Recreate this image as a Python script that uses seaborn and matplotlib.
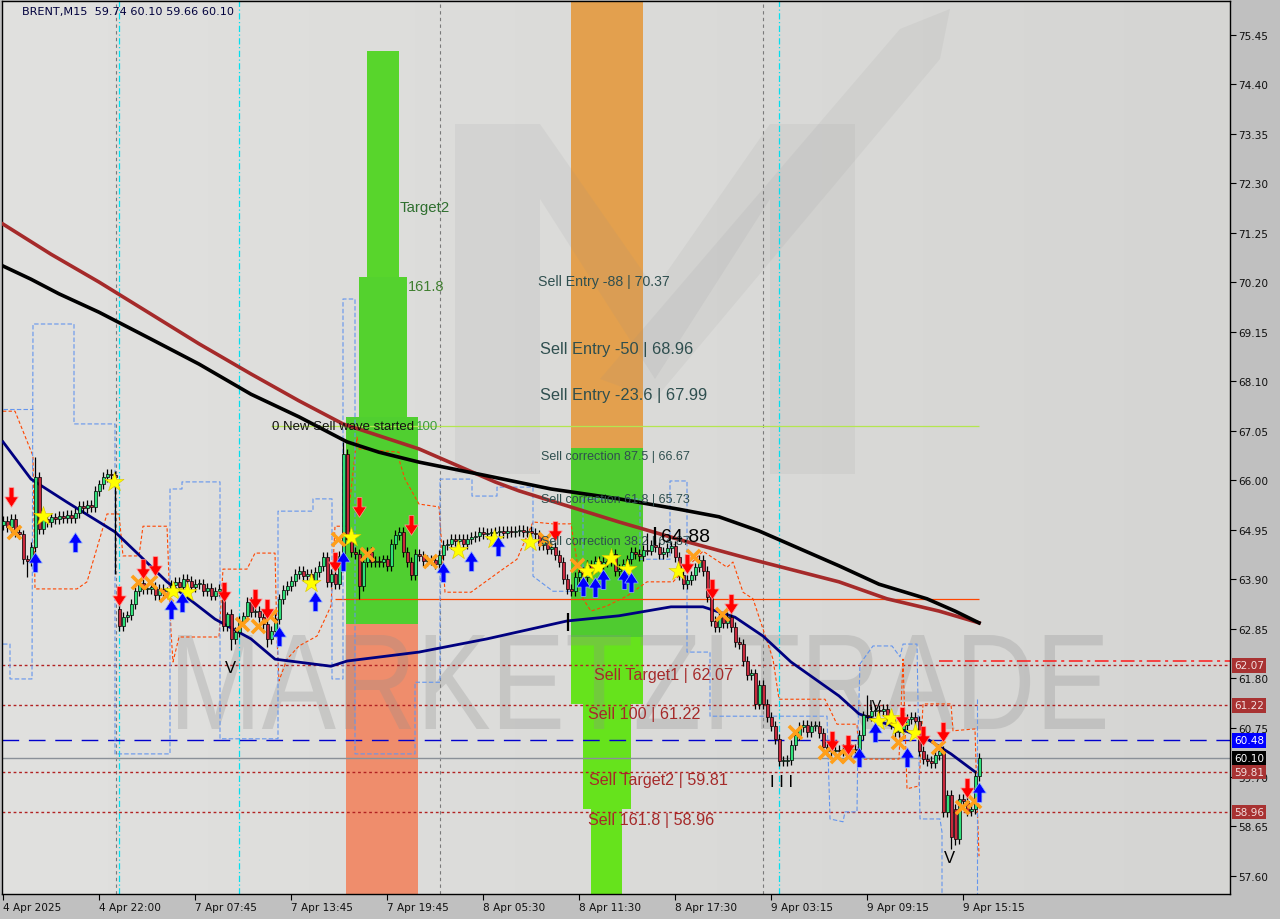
import numpy as np
import pandas as pd
import matplotlib
matplotlib.use("Agg")
import matplotlib.pyplot as plt
import seaborn as sns
from matplotlib.path import Path
from matplotlib.textpath import TextPath
from matplotlib.patches import PathPatch, Polygon
from matplotlib.font_manager import FontProperties
from matplotlib.transforms import Affine2D, blended_transform_factory
from matplotlib.colors import LinearSegmentedColormap

# ---------------- data ----------------
closes = [
    65.13, 65.00, 65.17, 64.90, 64.85, 64.32, 64.28, 64.58, 66.06, 64.96,
    65.17, 65.11, 65.21, 65.17, 65.24, 65.19, 65.26, 65.19, 65.30, 65.45,
    65.41, 65.47, 65.43, 65.77, 65.91, 66.06, 66.13, 66.10, 66.06,
    62.90, 63.09, 63.13, 63.37, 63.64, 63.81, 63.69, 63.69, 63.73, 63.56,
    63.69, 63.64, 63.64, 63.77, 63.84, 63.73, 63.90, 63.86, 63.73, 63.79,
    63.79, 63.64, 63.71, 63.55, 63.64, 63.69, 62.90, 63.16, 62.63, 62.78,
    63.01, 63.11, 63.41, 63.20, 63.22, 63.09, 62.94, 62.63, 62.80, 63.05,
    63.48, 63.67, 63.75, 63.86, 64.01, 64.07, 63.96, 64.01, 63.86, 64.05,
    64.18, 64.37, 63.84, 64.01, 63.79, 64.39, 66.55, 64.75, 64.47, 64.43,
    63.75, 64.26, 64.47, 64.26, 64.28, 64.26, 64.32, 64.18, 64.64, 64.83,
    64.90, 64.47, 64.26, 63.98, 64.43, 64.39, 64.28, 64.32, 64.30, 64.22,
    64.41, 64.62, 64.64, 64.75, 64.71, 64.75, 64.64, 64.75, 64.79, 64.81,
    64.90, 64.85, 64.88, 64.88, 64.90, 64.92, 64.88, 64.92, 64.90, 64.92,
    64.94, 64.90, 64.92, 64.88, 64.85, 64.62, 64.71, 64.54, 64.58, 64.41,
    64.26, 63.90, 63.69, 63.64, 63.94, 64.05, 63.94, 64.20, 64.13, 64.28,
    64.20, 64.26, 64.28, 64.43, 64.07, 64.11, 64.22, 64.32, 64.47, 64.43,
    64.39, 64.52, 64.50, 64.62, 64.58, 64.43, 64.47, 64.56, 64.60, 64.37,
    63.98, 63.79, 63.88, 63.98, 64.15, 64.30, 64.07, 63.52, 63.01, 62.88,
    63.09, 62.96, 63.09, 62.88, 62.56, 62.52, 62.16, 61.86, 61.90, 61.25,
    61.65, 61.25, 60.97, 60.78, 60.51, 60.04, 60.04, 60.06, 60.38, 60.59,
    60.76, 60.80, 60.65, 60.78, 60.78, 60.63, 60.34, 60.25, 60.25, 60.27,
    60.25, 60.29, 60.25, 60.29, 60.27, 60.59, 61.01, 60.99, 61.10, 61.12,
    61.10, 61.14, 60.93, 60.82, 60.65, 60.72, 60.80, 60.93, 60.97, 60.89,
    60.25, 60.08, 60.04, 60.00, 60.17, 60.25, 58.96, 59.32, 58.43, 58.38,
    59.23, 59.19, 58.98, 59.02, 59.72, 60.10,
]
gap_opens = {0: 65.05, 29: 63.27, 238: 59.02}
wick_highs = {8: 66.49, 29: 63.40, 85: 66.81, 161: 64.88, 216: 61.45, 4: 65.05, 56: 63.20}
wick_lows = {57: 62.40, 89: 63.48, 237: 58.17, 238: 58.25, 66: 62.45, 28: 64.0, 6: 63.95}

x_tick_pos = [0, 24, 48, 72, 96, 120, 144, 168, 192, 216, 240]
x_tick_labels = ["4 Apr 2025", "4 Apr 22:00", "7 Apr 07:45", "7 Apr 13:45", "7 Apr 19:45",
                 "8 Apr 05:30", "8 Apr 11:30", "8 Apr 17:30", "9 Apr 03:15", "9 Apr 09:15",
                 "9 Apr 15:15"]
y_tick_vals = [57.60, 58.65, 59.70, 60.75, 61.80, 62.85, 63.90, 64.95, 66.00, 67.05,
               68.10, 69.15, 70.20, 71.25, 72.30, 73.35, 74.40, 75.45]

black_idx = [0, 7, 14, 24, 37, 49, 62, 74, 86, 94, 104, 121, 137, 154, 169, 179, 189, 199, 209, 219, 231, 238, 244]
black_val = [70.54, 70.26, 69.95, 69.56, 68.99, 68.46, 67.82, 67.34, 66.81, 66.59, 66.38, 66.09, 65.81,
             65.60, 65.38, 65.22, 64.92, 64.55, 64.18, 63.79, 63.48, 63.22, 62.97]
brown_idx = [0, 12, 24, 37, 49, 62, 74, 85, 104, 123, 129, 154, 171, 187, 209, 221, 234, 244]
brown_val = [71.43, 70.79, 70.20, 69.52, 68.89, 68.25, 67.68, 67.19, 66.66, 65.96, 65.77, 65.11,
             64.69, 64.32, 63.84, 63.48, 63.22, 62.97]
navy_idx = [0, 7, 16, 28, 41, 53, 62, 68, 82, 86, 104, 121, 141, 154, 167, 175, 183, 190, 197, 209, 214, 231, 237, 243]
navy_val = [66.81, 66.02, 65.53, 64.90, 63.84, 63.05, 62.63, 62.20, 62.05, 62.16, 62.35, 62.63, 63.01,
            63.12, 63.31, 63.31, 63.09, 62.69, 62.14, 61.42, 61.04, 60.51, 60.19, 59.81]

orange_idx = [0, 3, 7.5, 8, 18.5, 21, 26, 29, 30, 34, 35, 41, 42, 42.5, 44, 54, 55, 61, 63, 68,
              68.5, 69, 71, 74, 78.5, 82, 83, 86, 88.5, 89, 99, 99.2, 100.5, 104, 109, 110.5, 117, 124,
              128.5, 132.5, 137.5, 142, 145, 147, 151, 156, 161, 167.5, 175, 181, 182.5, 185, 187.5,
              192.5, 194, 205.5, 208.5, 213.5, 214, 224, 225, 226, 229, 230, 237, 237.5, 243, 243.5, 244]
orange_val = [67.46, 67.46, 66.51, 63.69, 63.69, 63.84, 65.28, 65.28, 64.39, 64.39, 65.02, 65.02,
              62.78, 62.14, 62.67, 62.67, 64.11, 64.11, 64.45, 64.45, 62.63, 61.74, 62.20, 62.48,
              62.69, 63.33, 65.02, 65.02, 66.91, 66.66, 66.59, 66.38, 66.02, 65.49, 65.43, 63.62,
              63.62, 64.05, 64.32, 65.11, 65.07, 65.07, 63.48, 63.22, 63.33, 63.54, 63.84, 63.84,
              64.49, 64.15, 64.26, 63.62, 63.48, 62.20, 61.35, 61.35, 60.82, 60.82, 60.08, 60.08,
              62.20, 59.45, 59.51, 61.25, 61.25, 60.68, 60.72, 59.23, 58.02]

blue_idx_a = [0, 7.5]
blue_val_a = [67.51, 67.51]
blue_idx_b = [0, 1.75, 1.75, 7.25, 7.5, 17.75, 17.75, 28, 28, 41.75, 41.75, 44.75, 44.75, 54.25,
              54.25, 68.75, 68.75, 77.5, 77.5, 82.25, 82.25, 85, 85, 88, 88, 103, 103, 109.25, 109.25,
              117.25, 117.25, 123.5, 123.5, 132.5, 132.5, 137.5, 145, 145, 159.25, 159.25, 166.75,
              166.75, 171, 171, 176.75, 176.75, 206, 206.75, 210, 210.5, 213.5, 213.75, 214.25, 217.5,
              222.25, 224.25, 225, 228.5, 229.25, 234.25, 234.75, 234.75]
blue_val_b = [62.52, 62.52, 61.78, 61.78, 69.31, 69.31, 67.19, 67.19, 60.19, 60.19, 65.81, 65.81,
              65.96, 65.96, 60.51, 60.51, 65.34, 65.34, 65.60, 65.60, 61.78, 61.78, 69.84, 69.84,
              60.19, 60.19, 61.71, 61.71, 66.02, 66.02, 65.66, 65.66, 65.85, 65.85, 63.96, 63.64,
              63.64, 65.60, 65.60, 64.32, 64.32, 65.98, 65.98, 62.35, 62.35, 60.99, 60.99, 58.81,
              58.75, 58.96, 58.96, 60.65, 62.10, 62.48, 62.48, 62.25, 62.52, 62.52, 58.81, 58.81,
              58.53, 57.0]
blue_idx_c = [243.5, 243.5]
blue_val_c = [61.35, 57.0]

down_idx = [2, 29, 35, 38, 55.25, 63, 66, 83, 89, 102, 138, 171, 177.25, 182, 207.25, 211.25, 224.75, 230, 235, 241]
down_val = [65.64, 63.54, 64.11, 64.18, 63.62, 63.48, 63.26, 64.26, 65.43, 65.04, 64.92, 64.22, 63.69,
            63.37, 60.46, 60.38, 60.97, 60.57, 60.65, 59.47]
up_idx = [8, 18, 42, 44.75, 69, 78, 85, 110, 117, 123.75, 145, 148, 150, 155.25, 157, 214, 218, 226, 244]
up_val = [64.26, 64.68, 63.26, 63.41, 62.69, 63.43, 64.28, 64.05, 64.28, 64.60, 63.75, 63.73, 63.90,
          63.90, 63.84, 60.12, 60.65, 60.12, 59.38]
star_idx = [10, 27.75, 42.5, 46, 77, 87, 113.75, 122.75, 131.75, 146, 148.75, 152, 156, 168.75, 218.75, 222, 223.75, 228]
star_val = [65.24, 65.96, 63.64, 63.62, 63.81, 64.79, 64.51, 64.75, 64.68, 64.07, 64.15, 64.34, 64.11,
            64.07, 60.89, 60.95, 60.78, 60.63]
cross_idx = [2.75, 33.75, 36.75, 40.75, 59.75, 63.75, 66.75, 83.75, 91, 106.75, 135.5, 143.5, 172.5,
             179.75, 198, 205.5, 208.5, 211.25, 223.75, 233.75, 239.75, 242.75]
cross_val = [64.90, 63.84, 63.84, 63.56, 62.95, 62.90, 63.12, 64.75, 64.43, 64.28, 64.75, 64.20, 64.39,
             63.16, 60.65, 60.23, 60.15, 60.15, 60.44, 60.34, 59.06, 59.19]

zone_x0 = [91, 89, 85.75, 85.75, 142, 142, 142, 145, 147]
zone_x1 = [99, 101, 103.75, 103.75, 160, 160, 160, 157, 154.75]
zone_lo = [70.31, 67.34, 62.95, 56.0, 66.68, 62.67, 61.25, 59.02, 56.0]
zone_hi = [75.10, 70.31, 67.34, 62.95, 77.0, 66.68, 62.67, 61.25, 59.02]
zone_col = ['#58d52c', '#54d22e', '#50cf30', '#ef8d6c', '#e3a04e', '#4fcb30', '#66e31c', '#66e31c', '#66e31c']

sell_levels = [62.07, 61.22, 59.81, 58.96]
ask_level = 60.48
bid_level = 60.10
zero_level = 63.48
hundred_level = 67.14

# ---------------- build OHLC ----------------
n = len(closes)
idx = np.arange(n)
opens = []
for i, c in enumerate(closes):
    if i in gap_opens:
        opens.append(gap_opens[i])
    else:
        opens.append(closes[i - 1])
opens = np.array(opens)
cl = np.array(closes)
WICK = 0.10
highs = np.array([wick_highs.get(i, max(opens[i], cl[i]) + WICK) for i in range(n)])
lows = np.array([wick_lows.get(i, min(opens[i], cl[i]) - WICK) for i in range(n)])

# ---------------- figure ----------------
W, H = 1280, 920
fig = plt.figure(figsize=(W / 100, H / 100), dpi=100, facecolor='#c0c0c0')
ax = fig.add_axes([2 / W, 25 / H, 1228 / W, 893 / H])
XMIN, XMAX = -0.25, 306.75
YMIN, YMAX = 57.218, 76.162

def fr(px, py):
    return ((px - 2) / 1228, (895 - py) / 893)

# background gradient
grad = np.linspace(0, 1, 256).reshape(1, -1)
cmap = LinearSegmentedColormap.from_list('bg', ['#e1e1df', '#d5d5d3'])
ax.imshow(grad, extent=[0, 1, 0, 1], transform=ax.transAxes, cmap=cmap, aspect='auto', zorder=0)

# zones
zx0 = np.array(zone_x0); zx1 = np.array(zone_x1)
zlo = np.array(zone_lo); zhi = np.array(zone_hi)
ax.bar(zx0, zhi - zlo, bottom=zlo, width=zx1 - zx0, align='edge', color=zone_col, linewidth=0, zorder=1)

# logo (decoration)
logo_polys = [
    [(455, 125), (540, 125), (540, 475), (455, 475)],
    [(540, 125), (655, 290), (770, 125), (770, 200), (655, 380), (540, 200)],
    [(770, 125), (855, 125), (855, 475), (770, 475)],
    [(600, 380), (900, 30), (950, 10), (940, 60), (655, 400)],
]
for poly in logo_polys:
    ax.add_patch(Polygon([fr(*p) for p in poly], closed=True, transform=ax.transAxes,
                         fc='#8c8c8c', ec='none', alpha=0.10, zorder=1.5))

# watermark text
tp = TextPath((0, 0), "MARKETZITRADE", size=1, prop=FontProperties(family='Liberation Sans'))
ext = tp.get_extents()
fx0, fy0 = fr(178, 730)
fx1, fy1 = fr(1105, 636)
tr = Affine2D().translate(-ext.x0, -ext.y0).scale((fx1 - fx0) / ext.width, (fy1 - fy0) / ext.height) \
    .translate(fx0, fy0) + ax.transAxes
ax.add_patch(PathPatch(tp, transform=tr, fc='#8e8e8e', ec='none', alpha=0.28, zorder=1.6))

# vertical separators
for v in [28.25, 109.25, 190]:
    ax.axvline(v, color='#7a7a7a', lw=0.8, ls=(0, (3, 3)), zorder=1.8)
for v in [29, 59, 194]:
    ax.axvline(v, color='#00e0f0', lw=0.9, ls=(0, (5, 2, 1, 2)), zorder=1.8)

# horizontal levels
for lv in sell_levels:
    ax.axhline(lv, color='#b22222', lw=1.0, ls=(0, (2, 2)), zorder=2)
ax.hlines(62.16, 234, XMAX, color='#ff1a1a', lw=1.1, ls=(0, (9, 3, 2, 3)), zorder=2)
ax.axhline(ask_level, color='#0000cd', lw=1.0, ls=(0, (12, 7)), zorder=2)
ax.axhline(bid_level, color='#8a9098', lw=1.0, zorder=2)
ax.hlines(zero_level, 83, 244, color='#ff4500', lw=0.9, zorder=2)
ax.hlines(hundred_level, 67, 244, color='#b4e650', lw=0.9, zorder=2)

# envelopes
sns.lineplot(x=orange_idx, y=orange_val, ax=ax, estimator=None, sort=False,
             color='#ff4500', lw=0.8, ls=(0, (3, 2)), zorder=2.5)
for bi, bv in [(blue_idx_a, blue_val_a), (blue_idx_b, blue_val_b), (blue_idx_c, blue_val_c)]:
    sns.lineplot(x=bi, y=bv, ax=ax, estimator=None, sort=False,
                 color='#6495ed', lw=0.8, ls=(0, (4, 2)), zorder=2.5)

# moving averages
sns.lineplot(x=brown_idx, y=brown_val, ax=ax, color='#a52a2a', lw=2.6, zorder=3)
sns.lineplot(x=black_idx, y=black_val, ax=ax, color='#000000', lw=2.6, zorder=3.1)
sns.lineplot(x=navy_idx, y=navy_val, ax=ax, color='#000080', lw=2.0, zorder=3.2)

# candles
ax.vlines(idx, lows, highs, color='black', lw=0.9, zorder=4)
up = cl >= opens
body = np.where(np.abs(cl - opens) < 0.02, 0.02, np.abs(cl - opens))
bottoms = np.minimum(cl, opens)
ax.bar(idx[up], body[up], bottom=bottoms[up], width=0.75, color='#2fe07a',
       edgecolor='black', linewidth=0.5, zorder=4.2)
ax.bar(idx[~up], body[~up], bottom=bottoms[~up], width=0.75, color='#c8283c',
       edgecolor='black', linewidth=0.5, zorder=4.2)

# markers
dn_verts = [(-0.22, 0.9), (0.22, 0.9), (0.22, 0.05), (0.62, 0.05), (0, -0.9), (-0.62, 0.05), (-0.22, 0.05), (-0.22, 0.9)]
down_path = Path(dn_verts, [Path.MOVETO] + [Path.LINETO] * 6 + [Path.CLOSEPOLY])
up_path = Path([(x, -y) for x, y in dn_verts], [Path.MOVETO] + [Path.LINETO] * 6 + [Path.CLOSEPOLY])
sns.scatterplot(x=cross_idx, y=cross_val, ax=ax, marker='x', s=90, color='#ff9f1a', linewidth=2.6, zorder=5)
sns.scatterplot(x=star_idx, y=star_val, ax=ax, marker='*', s=210, color='#ffff00',
                edgecolor='#d9c400', linewidth=0.4, zorder=5.1)
sns.scatterplot(x=down_idx, y=down_val, ax=ax, marker=down_path, s=200, color='#ff0000',
                edgecolor='#ff9a9a', linewidth=0.5, zorder=5.2)
sns.scatterplot(x=up_idx, y=up_val, ax=ax, marker=up_path, s=200, color='#0000ff',
                edgecolor='#8fb4ff', linewidth=0.5, zorder=5.2)
ax.scatter([141.25], [62.99], marker='|', s=160, color='black', linewidths=1.6, zorder=5)

# text labels
LF = ['Liberation Sans', 'DejaVu Sans']
def t(x, y, s, size, color, **kw):
    ax.text(x, y, s, fontsize=size, color=color, family=LF, ha='left', va='center', zorder=6, **kw)

t(99.25, 71.79, "Target2", 10.8, '#2f6f2f')
t(101.25, 70.11, "161.8", 10.5, '#3f7f2f')
t(67.25, 67.14, "0 New Sell wave started", 9.5, '#101010')
t(103.2, 67.14, "100", 9.5, '#3e9e3e')
t(133.75, 70.22, "Sell Entry -88 | 70.37", 10.2, '#2f4f4f')
t(134.25, 68.80, "Sell Entry -50 | 68.96", 11.8, '#2f4f4f')
t(134.25, 67.82, "Sell Entry -23.6 | 67.99", 11.8, '#2f4f4f')
t(134.5, 66.51, "Sell correction 87.5 | 66.67", 9.0, '#2f4f4f')
t(134.5, 65.60, "Sell correction 61.8 | 65.73", 9.0, '#2f4f4f')
t(134.5, 64.71, "Sell correction 38.2 | 64.87", 9.0, '#2f4f4f')
t(164.6, 64.80, "64.88", 14, '#000000')
ax.vlines(163.0, 64.62, 65.0, color='black', lw=1.6, zorder=6)
t(147.75, 61.88, "Sell Target1 | 62.07", 11.6, '#a52a2a')
t(146.25, 61.04, "Sell 100 | 61.22", 11.6, '#a52a2a')
t(146.5, 59.64, "Sell Target2 | 59.81", 11.6, '#a52a2a')
t(146.25, 58.79, "Sell 161.8 | 58.96", 11.6, '#a52a2a')
t(55.5, 62.03, "V", 12, '#000000')
t(235.25, 58.00, "V", 12, '#000000')
t(191.8, 59.61, "I I I", 12, '#000000')
t(216.5, 61.23, "IV", 10, '#000000')

# axes setup
ax.set_xlim(XMIN, XMAX)
ax.set_ylim(YMIN, YMAX)
ax.set_xlabel("")
ax.set_ylabel("")
ax.yaxis.tick_right()
ax.set_yticks(y_tick_vals)
ax.set_yticklabels([f"{v:.2f}" for v in y_tick_vals])
ax.set_xticks(x_tick_pos)
ax.set_xticklabels(x_tick_labels, ha='left')
ax.tick_params(axis='both', direction='out', length=4, width=0.8, color='black',
               labelsize=7.6, labelcolor='#101010')
ax.tick_params(axis='y', pad=2)
ax.tick_params(axis='x', pad=2)
for sp in ax.spines.values():
    sp.set_color('black')
    sp.set_linewidth(1.0)
ax.grid(False)

# right-side price boxes
btr = blended_transform_factory(ax.transAxes, ax.transData)
def box(y, s, fc, tc):
    ax.text(1.0032, y, s, transform=btr, fontsize=7.6, color=tc, ha='left', va='center',
            clip_on=False, zorder=10,
            bbox=dict(boxstyle='square,pad=0.22', fc=fc, ec='none'))
for lv in sell_levels:
    box(lv, f"{lv:.2f}", '#a83232', '#f2dede')
box(ask_level, f"{ask_level:.2f}", '#0000ff', '#ffffff')
box(bid_level, f"{bid_level:.2f}", '#000000', '#ffffff')

fig.text(22 / W, 1 - 12 / H, "BRENT,M15  59.74 60.10 59.66 60.10", fontsize=8.1,
         color='#00003c', va='center', ha='left')

fig.savefig("out.png", dpi=100, facecolor=fig.get_facecolor())
